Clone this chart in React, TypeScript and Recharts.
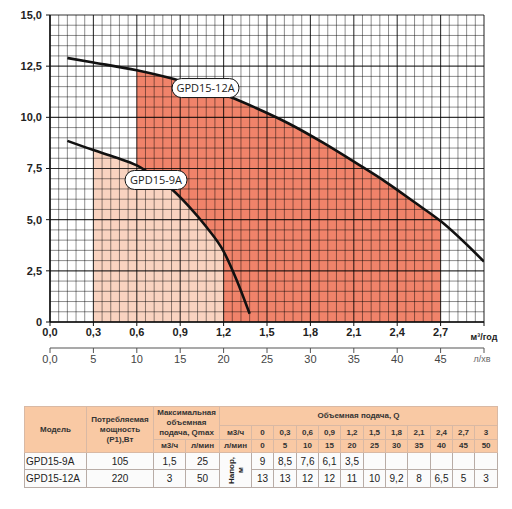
import React from 'react';
import { ComposedChart, Line, Area, XAxis, YAxis, ReferenceLine, ReferenceDot } from 'recharts';

// Curve GPD15-9A (flow m³/h, head m)
const curve9Q = [0.12, 0.3, 0.45, 0.6, 0.72, 0.84, 0.96, 1.08, 1.2, 1.29, 1.38];
const curve9H = [8.85, 8.4, 8.05, 7.65, 7.12, 6.5, 5.65, 4.65, 3.45, 2.05, 0.4];
// Curve GPD15-12A
const curve12Q = [0.12, 0.3, 0.6, 0.85, 1.05, 1.25, 1.42, 1.65, 1.89, 2.12, 2.32, 2.53, 2.7, 3.0];
const curve12H = [12.9, 12.68, 12.3, 11.88, 11.45, 10.98, 10.47, 9.7, 8.75, 7.75, 6.85, 5.8, 4.93, 2.95];
// Working ranges (shaded)
const range9 = [0.3, 1.2];
const range12 = [0.6, 2.7];

const yTicks = [0, 2.5, 5, 7.5, 10, 12.5, 15];
const xTicksM3 = [0, 0.3, 0.6, 0.9, 1.2, 1.5, 1.8, 2.1, 2.4, 2.7, 3.0];
const xTicksLmin = [0, 5, 10, 15, 20, 25, 30, 35, 40, 45, 50];
const gridLmin = Array.from({ length: 51 }, (_, i) => i);
const gridHead = Array.from({ length: 31 }, (_, i) => i * 0.5);

// Table data
const tableFlowM3 = ['0', '0,3', '0,6', '0,9', '1,2', '1,5', '1,8', '2,1', '2,4', '2,7', '3'];
const tableFlowLmin = ['0', '5', '10', '15', '20', '25', '30', '35', '40', '45', '50'];
const models = ['GPD15-9A', 'GPD15-12A'];
const powers = ['105', '220'];
const qmaxM3 = ['1,5', '3'];
const qmaxLmin = ['25', '50'];
const heads9 = ['9', '8,5', '7,6', '6,1', '3,5', '', '', '', '', '', ''];
const heads12 = ['13', '13', '12', '12', '11', '10', '9,2', '8', '6,5', '5', '3'];

const allQ = Array.from(new Set([...curve9Q, ...curve12Q])).sort((a, b) => a - b);
const chartData = allQ.map((q) => {
  const i9 = curve9Q.indexOf(q);
  const i12 = curve12Q.indexOf(q);
  const h9 = i9 >= 0 ? curve9H[i9] : null;
  const h12 = i12 >= 0 ? curve12H[i12] : null;
  return {
    q,
    lmin: (q * 1000) / 60,
    h9,
    h12,
    f9: h9 !== null && q >= range9[0] - 1e-9 && q <= range9[1] + 1e-9 ? h9 : null,
    f12: h12 !== null && q >= range12[0] - 1e-9 && q <= range12[1] + 1e-9 ? h12 : null,
  };
});

const comma = (v: number, d = 1) => v.toFixed(d).replace('.', ',');
const tickFont = '"Liberation Sans", Arial, sans-serif';

const M3Tick = (props: any) => {
  const { x, y, payload } = props;
  if (Math.abs(payload.value - 3) < 1e-6) {
    return (
      <text x={x} y={y + 12} textAnchor="middle" fontSize={9} fontWeight="bold" fill="#222" fontFamily={tickFont}>
        м³/год
      </text>
    );
  }
  return (
    <text x={x} y={y} dy="0.75em" textAnchor="middle" fontSize={11} fontWeight="bold" fill="#222" fontFamily={tickFont}>
      {comma(payload.value)}
    </text>
  );
};

const LminTick = (props: any) => {
  const { x, y, payload } = props;
  if (payload.value === 50) {
    return (
      <text x={x - 2} y={y} dy="0.8em" textAnchor="middle" fontSize={9} fill="#666" fontFamily={tickFont}>
        л/хв
      </text>
    );
  }
  return (
    <text x={x} y={y} dy="0.75em" textAnchor="middle" fontSize={11} fill="#444" fontFamily={tickFont}>
      {payload.value === 0 ? '0,0' : String(payload.value)}
    </text>
  );
};

const pill = (label: string, w: number) => (p: any) => {
  const { cx, cy } = p;
  return (
    <g>
      <rect x={cx - w / 2} y={cy - 9.5} width={w} height={19} rx={9.5} ry={9.5} fill="#fff" stroke="#111" strokeWidth={1} />
      <text x={cx} y={cy} dy="0.35em" textAnchor="middle" fontSize={11} fill="#222" fontFamily='"Open Sans", sans-serif'>
        {label}
      </text>
    </g>
  );
};

const th: React.CSSProperties = {
  background: '#f9c9a4',
  border: '1px solid #d9b9a4',
  fontWeight: 'bold',
  fontSize: 8,
  lineHeight: '10px',
  color: '#333',
  textAlign: 'center',
  padding: 0,
  overflow: 'hidden',
};
const td: React.CSSProperties = {
  background: '#fbfbfb',
  border: '1px solid #b8aca6',
  fontSize: 10,
  color: '#222',
  textAlign: 'center',
  padding: 0,
  overflow: 'hidden',
};

export default function App() {
  return (
    <div style={{ position: 'absolute', left: 0, top: 0, width: 512, height: 509, background: '#fff' }}>
      <ComposedChart width={512} height={380} data={chartData} margin={{ top: 15, right: 28, bottom: 6, left: 0 }}>
        <XAxis
          xAxisId="a"
          dataKey="q"
          type="number"
          domain={[0, 3]}
          ticks={xTicksM3}
          interval={0}
          height={26}
          tickSize={4}
          tickMargin={2}
          stroke="#111"
          axisLine={{ stroke: '#111', strokeWidth: 1.5 }}
          tick={<M3Tick />}
          allowDataOverflow
        />
        <XAxis
          xAxisId="b"
          dataKey="lmin"
          type="number"
          domain={[0, 50]}
          ticks={xTicksLmin}
          interval={0}
          height={26}
          tickSize={5}
          tickMargin={2}
          stroke="#555"
          axisLine={{ stroke: '#555', strokeWidth: 1.2 }}
          tick={<LminTick />}
          allowDataOverflow
        />
        <YAxis
          type="number"
          domain={[0, 15]}
          ticks={yTicks}
          interval={0}
          width={50}
          tickSize={4}
          tickMargin={4}
          stroke="#111"
          axisLine={{ stroke: '#111', strokeWidth: 1.5 }}
          tickFormatter={(v: number) => (v === 0 ? '0' : comma(v))}
          tick={{ fontSize: 11, fontWeight: 'bold', fill: '#222', fontFamily: tickFont }}
          allowDataOverflow
        />
        <Area
          xAxisId="a"
          dataKey="f12"
          type="monotone"
          connectNulls
          stroke="none"
          fill="#f0836a"
          fillOpacity={1}
          baseValue={0}
          isAnimationActive={false}
          dot={false}
          activeDot={false}
        />
        <Area
          xAxisId="a"
          dataKey="f9"
          type="monotone"
          connectNulls
          stroke="none"
          fill="#f9d3c0"
          fillOpacity={1}
          baseValue={0}
          isAnimationActive={false}
          dot={false}
          activeDot={false}
        />
        {gridLmin.map((v) => (
          <ReferenceLine
            key={'gx' + v}
            xAxisId="b"
            x={v}
            stroke="#000"
            strokeOpacity={v % 5 === 0 ? 0.8 : 0.5}
            strokeWidth={v % 5 === 0 ? 1.1 : 0.9}
          />
        ))}
        {gridHead.map((v) => (
          <ReferenceLine
            key={'gy' + v}
            xAxisId="a"
            y={v}
            stroke="#000"
            strokeOpacity={v % 2.5 === 0 ? 0.8 : 0.5}
            strokeWidth={v % 2.5 === 0 ? 1.1 : 0.9}
          />
        ))}
        <Line
          xAxisId="a"
          dataKey="h12"
          type="monotone"
          connectNulls
          stroke="#111"
          strokeWidth={2.6}
          dot={false}
          activeDot={false}
          isAnimationActive={false}
        />
        <Line
          xAxisId="a"
          dataKey="h9"
          type="monotone"
          connectNulls
          stroke="#111"
          strokeWidth={2.6}
          dot={false}
          activeDot={false}
          isAnimationActive={false}
        />
        <ReferenceDot xAxisId="a" x={1.075} y={11.43} r={0} shape={pill('GPD15-12A', 67)} />
        <ReferenceDot xAxisId="a" x={0.733} y={6.94} r={0} shape={pill('GPD15-9A', 62)} />
      </ComposedChart>

      <table
        style={{
          position: 'absolute',
          left: 24,
          top: 406,
          width: 473,
          borderCollapse: 'collapse',
          tableLayout: 'fixed',
          border: '1.5px solid #5e4e48',
          fontFamily: tickFont,
        }}
      >
        <colgroup>
          {[62, 67, 32, 34, 32, 22, 23, 22, 22, 23, 22, 22, 23, 22, 22, 23].map((w, i) => (
            <col key={i} style={{ width: w }} />
          ))}
        </colgroup>
        <tbody>
          <tr style={{ height: 19 }}>
            <td style={th} rowSpan={3}>Модель</td>
            <td style={th} rowSpan={3}>Потребляемая мощность (P1),Вт</td>
            <td style={th} colSpan={2} rowSpan={2}>Максимальная объемная подача, Qmax</td>
            <td style={th} colSpan={12}>Объемная подача, Q</td>
          </tr>
          <tr style={{ height: 14 }}>
            <td style={th}>м3/ч</td>
            {tableFlowM3.map((v, i) => (
              <td key={i} style={th}>{v}</td>
            ))}
          </tr>
          <tr style={{ height: 13 }}>
            <td style={th}>м3/ч</td>
            <td style={th}>л/мин</td>
            <td style={th}>л/мин</td>
            {tableFlowLmin.map((v, i) => (
              <td key={i} style={th}>{v}</td>
            ))}
          </tr>
          {[0, 1].map((r) => (
            <tr key={r} style={{ height: r === 0 ? 17 : 18 }}>
              <td style={{ ...td, textAlign: 'left', paddingLeft: 1 }}>{models[r]}</td>
              <td style={td}>{powers[r]}</td>
              <td style={td}>{qmaxM3[r]}</td>
              <td style={td}>{qmaxLmin[r]}</td>
              {r === 0 && (
                <td style={{ ...td, fontWeight: 'bold', fontSize: 8, lineHeight: '9px' }} rowSpan={2}>
                  <div style={{ writingMode: 'vertical-rl', transform: 'rotate(180deg)', margin: '0 auto', height: 33, display: 'flex', alignItems: 'center', justifyContent: 'center' }}>
                    Напор, м
                  </div>
                </td>
              )}
              {(r === 0 ? heads9 : heads12).map((v, i) => (
                <td key={i} style={td}>{v}</td>
              ))}
            </tr>
          ))}
        </tbody>
      </table>
    </div>
  );
}
